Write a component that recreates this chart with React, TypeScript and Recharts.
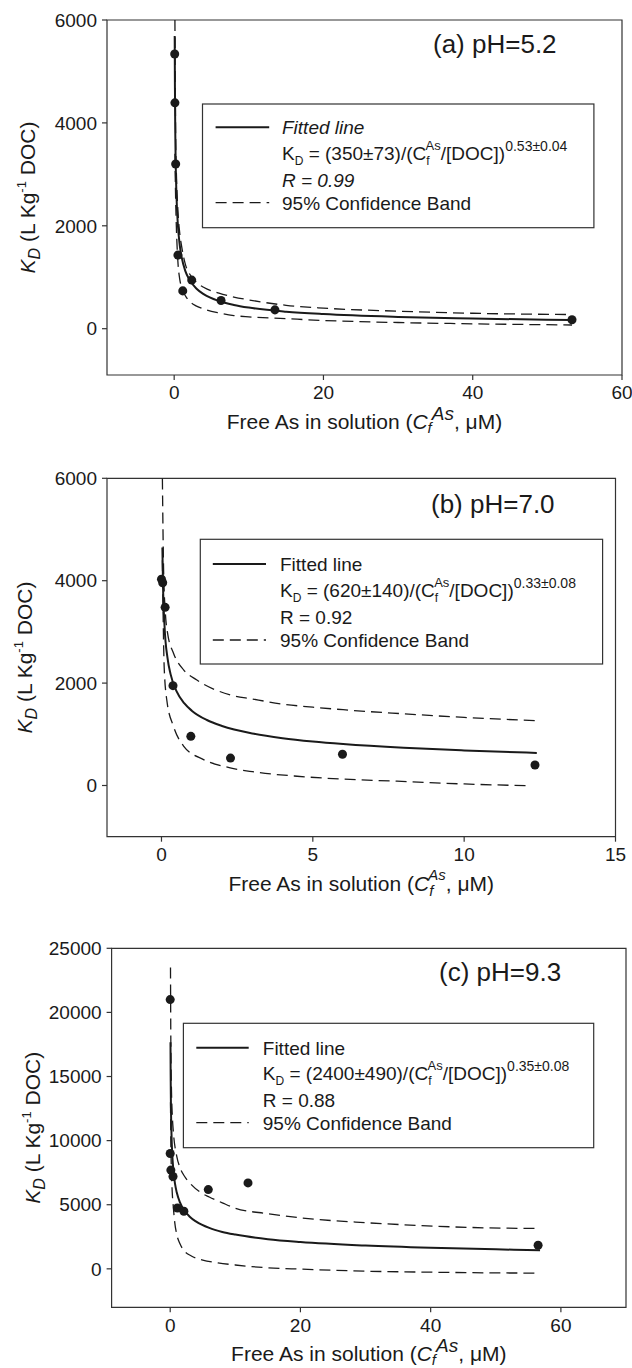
import React from 'react';
import { ComposedChart, Line, Scatter, XAxis, YAxis, ReferenceArea } from 'recharts';

const FONT = '"Liberation Sans", Arial, Helvetica, sans-serif';
const INK = '#1a1a1a';
const FRAME = '#333333';

// ---------- Panel (a) pH=5.2 ----------
const aPointX = [0.07, 0.1, 0.2, 0.5, 1.15, 2.35, 6.28, 13.5, 53.3];
const aPointY = [5340, 4390, 3200, 1430, 735, 945, 548, 366, 175];
const aFitX = [0.07, 0.1, 0.15, 0.2, 0.3, 0.5, 0.75, 1, 1.5, 2, 3, 4, 6, 8, 10, 15, 20, 30, 40, 53.3];
const aFitY = [5690, 4710, 3800, 3260, 2630, 2010, 1620, 1390, 1120, 963, 777, 667, 538, 462, 410, 331, 284, 229, 197, 169];
const aUpX = [0.1, 0.2, 0.3, 0.5, 0.75, 1, 1.5, 2, 3, 4, 6, 8, 10, 15, 20, 30, 40, 53.3];
const aUpY = [6000, 3700, 3000, 2300, 1850, 1600, 1250, 1080, 900, 800, 690, 615, 560, 455, 400, 340, 300, 275];
const aLoX = [0.1, 0.2, 0.3, 0.5, 0.75, 1, 1.5, 2, 3, 4, 6, 8, 10, 15, 20, 30, 40, 53.3];
const aLoY = [3400, 2500, 1950, 1300, 960, 800, 640, 540, 440, 380, 305, 255, 230, 195, 160, 120, 95, 72];
const aXTicks = [0, 20, 40, 60];
const aYTicks = [0, 2000, 4000, 6000];

// ---------- Panel (b) pH=7.0 ----------
const bPointX = [0.0, 0.04, 0.12, 0.38, 0.97, 2.28, 5.98, 12.34];
const bPointY = [4030, 3960, 3480, 1950, 960, 535, 610, 400];
const bFitX = [0.03, 0.05, 0.1, 0.2, 0.3, 0.5, 0.75, 1, 1.5, 2, 3, 4, 5, 6, 8, 10, 12.4];
const bFitY = [4650, 3930, 3125, 2486, 2175, 1838, 1608, 1462, 1279, 1163, 1017, 925, 860, 810, 736, 684, 637];
const bUpX = [0.03, 0.07, 0.125, 0.2, 0.4, 0.73, 1.17, 2.27, 3, 4, 5, 6, 8, 10, 12.4];
const bUpY = [6000, 4200, 3400, 2980, 2580, 2260, 2060, 1770, 1690, 1590, 1530, 1480, 1400, 1330, 1265];
const bLoX = [0.03, 0.05, 0.09, 0.18, 0.4, 0.73, 1.39, 2.27, 3, 4.48, 6, 7.78, 10, 12.2];
const bLoY = [4400, 3500, 2300, 1650, 1150, 770, 506, 345, 270, 181, 125, 84, 30, -5];
const bXTicks = [0, 5, 10, 15];
const bYTicks = [0, 2000, 4000, 6000];

// ---------- Panel (c) pH=9.3 ----------
const cPointX = [0.0, 0.0, 0.1, 0.43, 1.1, 2.1, 5.85, 11.95, 56.5];
const cPointY = [21000, 9000, 7700, 7200, 4750, 4490, 6180, 6700, 1840];
const cFitX = [0.045, 0.07, 0.1, 0.2, 0.3, 0.5, 0.75, 1, 1.5, 2, 3, 4, 6, 8, 10, 15, 20, 30, 40, 50, 56.8];
const cFitY = [17670, 15140, 13360, 10490, 9100, 7610, 6600, 5970, 5180, 4680, 4060, 3680, 3190, 2880, 2670, 2310, 2090, 1815, 1640, 1520, 1452];
const cUpX = [0.045, 0.1, 0.2, 0.3, 0.5, 1, 1.5, 2.22, 3, 4.78, 6, 8, 9.88, 15, 20.1, 30, 35.4, 48.2, 56.8];
const cUpY = [23500, 17500, 13800, 12200, 10600, 8800, 7900, 7200, 6700, 5920, 5600, 5150, 4750, 4300, 3970, 3600, 3450, 3200, 3150];
const cLoX = [0.045, 0.1, 0.2, 0.3, 0.5, 0.7, 1, 1.5, 2, 3.25, 5, 7.33, 10, 15, 20, 30.3, 40, 48.2, 56.8];
const cLoY = [13000, 9800, 7400, 6100, 4700, 3600, 2700, 1950, 1500, 1000, 680, 467, 300, 80, -20, -187, -260, -312, -330];
const cXTicks = [0, 20, 40, 60];
const cYTicks = [0, 5000, 10000, 15000, 20000, 25000];

const toXY = (xs: number[], ys: number[]) => xs.map((x, i) => ({ x, y: ys[i] }));

type Decor = {
  title: string;
  titleX: number;
  titleY: number;
  italic: boolean;
  coef: string;
  expo: string;
  rText: string;
  stacked: boolean;
  box: [number, number, number, number];
  sx: [number, number];
  tx: number;
  rows: [number, number, number, number];
  yLabelX: number;
};

function XLabel({ cx, y, stacked }: { cx: number; y: number; stacked: boolean }) {
  if (stacked) {
    return (
      <text x={cx} y={y} fontSize={21} textAnchor="middle">
        <tspan>Free As in solution (</tspan>
        <tspan fontStyle="italic">C</tspan>
        <tspan fontStyle="italic" fontSize={15} dy={5}>f</tspan>
        <tspan fontStyle="italic" fontSize={15} dx={-5} dy={-16}>As</tspan>
        <tspan dy={11}>, μM)</tspan>
      </text>
    );
  }
  return (
    <text x={cx} y={y} fontSize={21} textAnchor="middle">
      <tspan>Free As in solution (</tspan>
      <tspan fontStyle="italic">C</tspan>
      <tspan fontStyle="italic" fontSize={15} dy={4}>f</tspan>
      <tspan fontStyle="italic" fontSize={19} dy={-13}>As</tspan>
      <tspan dy={9}>, μM)</tspan>
    </text>
  );
}

function DecorLayer({ vb, d }: { vb: any; d: Decor }) {
  const { x, y, width, height } = vb;
  const [bx, by, bw, bh] = d.box;
  const it = d.italic ? 'italic' : 'normal';
  const base = (r: number) => y + r + 7;
  return (
    <g fontFamily={FONT} fill={INK}>
      <text x={x + d.titleX} y={y + d.titleY} fontSize={26}>{d.title}</text>
      <rect x={x + bx} y={y + by} width={bw} height={bh} fill="none" stroke={FRAME} strokeWidth={1.2} />
      <line x1={x + d.sx[0]} x2={x + d.sx[1]} y1={y + d.rows[0]} y2={y + d.rows[0]} stroke={INK} strokeWidth={2} />
      <line x1={x + d.sx[0]} x2={x + d.sx[1]} y1={y + d.rows[3]} y2={y + d.rows[3]} stroke={INK} strokeWidth={1.3} strokeDasharray="11 6" />
      <text x={x + d.tx} y={base(d.rows[0])} fontSize={19} fontStyle={it}>Fitted line</text>
      <text x={x + d.tx} y={base(d.rows[1])} fontSize={19}>
        <tspan>K</tspan>
        <tspan fontSize={12} dy={5}>D</tspan>
        <tspan dy={-5}>{` = ${d.coef}/(C`}</tspan>
        <tspan fontSize={12} dy={5}>f</tspan>
        <tspan fontSize={13} dx={-4} dy={-15}>As</tspan>
        <tspan dy={10}>/[DOC])</tspan>
        <tspan fontSize={14} dy={-9}>{d.expo}</tspan>
      </text>
      <text x={x + d.tx} y={base(d.rows[2])} fontSize={19} fontStyle={it}>{d.rText}</text>
      <text x={x + d.tx} y={base(d.rows[3])} fontSize={19}>95% Confidence Band</text>
      <XLabel cx={x + width / 2} y={y + height + 54} stacked={d.stacked} />
      <text
        transform={`translate(${d.yLabelX}, ${y + height / 2}) rotate(-90)`}
        x={0}
        y={0}
        fontSize={21}
        textAnchor="middle"
      >
        <tspan fontStyle="italic">K</tspan>
        <tspan fontStyle="italic" fontSize={16} dy={5}>D</tspan>
        <tspan dy={-5}> (L Kg</tspan>
        <tspan fontSize={13} dy={-9}>-1</tspan>
        <tspan dy={9}> DOC)</tspan>
      </text>
    </g>
  );
}

type PanelProps = {
  top: number;
  height: number;
  margin: { top: number; right: number; left: number; bottom: number };
  yW: number;
  xH: number;
  xDomain: [number, number];
  yDomain: [number, number];
  xTicks: number[];
  yTicks: number[];
  fit: { x: number; y: number }[];
  up: { x: number; y: number }[];
  lo: { x: number; y: number }[];
  pts: { x: number; y: number }[];
  decor: Decor;
};

function Panel(p: PanelProps) {
  const tickStyle = { fill: INK, fontSize: 19, fontFamily: FONT };
  return (
    <div style={{ position: 'absolute', left: 0, top: p.top, width: 632, height: p.height }}>
      <ComposedChart width={632} height={p.height} margin={p.margin}>
        <XAxis
          type="number"
          dataKey="x"
          domain={p.xDomain}
          ticks={p.xTicks}
          interval={0}
          allowDataOverflow
          height={p.xH}
          axisLine={false}
          tickLine={{ stroke: FRAME, strokeWidth: 1.2 }}
          tickSize={5}
          tickMargin={6}
          tick={tickStyle}
        />
        <YAxis
          type="number"
          dataKey="y"
          domain={p.yDomain}
          ticks={p.yTicks}
          interval={0}
          allowDataOverflow
          width={p.yW}
          axisLine={false}
          tickLine={{ stroke: FRAME, strokeWidth: 1.2 }}
          tickSize={5}
          tickMargin={5}
          tick={tickStyle}
        />
        <ReferenceArea
          x1={p.xDomain[0]}
          x2={p.xDomain[1]}
          y1={p.yDomain[0]}
          y2={p.yDomain[1]}
          fill="none"
          fillOpacity={0}
          stroke={FRAME}
          strokeWidth={1.2}
          ifOverflow="visible"
          label={(lp: any) => <DecorLayer vb={lp.viewBox} d={p.decor} />}
        />
        <Line data={p.up} dataKey="y" type="monotone" stroke={INK} strokeWidth={1.3} strokeDasharray="11 6" dot={false} activeDot={false} isAnimationActive={false} />
        <Line data={p.lo} dataKey="y" type="monotone" stroke={INK} strokeWidth={1.3} strokeDasharray="11 6" dot={false} activeDot={false} isAnimationActive={false} />
        <Line data={p.fit} dataKey="y" type="monotone" stroke={INK} strokeWidth={2} dot={false} activeDot={false} isAnimationActive={false} />
        <Scatter data={p.pts} dataKey="y" fill={INK} isAnimationActive={false} />
      </ComposedChart>
    </div>
  );
}

const decorA: Decor = {
  title: '(a) pH=5.2', titleX: 326, titleY: 33, italic: true,
  coef: '(350±73)', expo: '0.53±0.04', rText: 'R = 0.99', stacked: false,
  box: [95.5, 84, 391.4, 123.7], sx: [108.6, 162.2], tx: 175, rows: [107.3, 133, 160, 182.7], yLabelX: 35,
};
const decorB: Decor = {
  title: '(b) pH=7.0', titleX: 324, titleY: 34.3, italic: false,
  coef: '(620±140)', expo: '0.33±0.08', rText: 'R = 0.92', stacked: true,
  box: [93.3, 61, 402.3, 124.7], sx: [105.8, 159], tx: 173, rows: [85.7, 111.7, 138.4, 161.7], yLabelX: 32,
};
const decorC: Decor = {
  title: '(c) pH=9.3', titleX: 327.4, titleY: 33, italic: false,
  coef: '(2400±490)', expo: '0.35±0.08', rText: 'R = 0.88', stacked: false,
  box: [71.8, 75, 410.3, 124.4], sx: [84.7, 137.1], tx: 151.2, rows: [99.4, 125, 151.7, 174.4], yLabelX: 40,
};

export default function App() {
  return (
    <div style={{ position: 'absolute', left: 0, top: 0, width: 632, height: 1368, background: '#fff' }}>
      <Panel
        top={0} height={455} margin={{ top: 20, right: 10, left: 0, bottom: 0 }} yW={107} xH={80}
        xDomain={[-9, 60]} yDomain={[-900, 6000]} xTicks={aXTicks} yTicks={aYTicks}
        fit={toXY(aFitX, aFitY)} up={toXY(aUpX, aUpY)} lo={toXY(aLoX, aLoY)} pts={toXY(aPointX, aPointY)}
        decor={decorA}
      />
      <Panel
        top={455} height={455} margin={{ top: 23.3, right: 16.5, left: 0, bottom: 0 }} yW={107} xH={73.3}
        xDomain={[-1.8, 15]} yDomain={[-1000, 6000]} xTicks={bXTicks} yTicks={bYTicks}
        fit={toXY(bFitX, bFitY)} up={toXY(bUpX, bUpY)} lo={toXY(bLoX, bLoY)} pts={toXY(bPointX, bPointY)}
        decor={decorB}
      />
      <Panel
        top={910} height={458} margin={{ top: 38.3, right: 6, left: 0, bottom: 0 }} yW={111.6} xH={60.7}
        xDomain={[-9, 70]} yDomain={[-3000, 25000]} xTicks={cXTicks} yTicks={cYTicks}
        fit={toXY(cFitX, cFitY)} up={toXY(cUpX, cUpY)} lo={toXY(cLoX, cLoY)} pts={toXY(cPointX, cPointY)}
        decor={decorC}
      />
    </div>
  );
}
